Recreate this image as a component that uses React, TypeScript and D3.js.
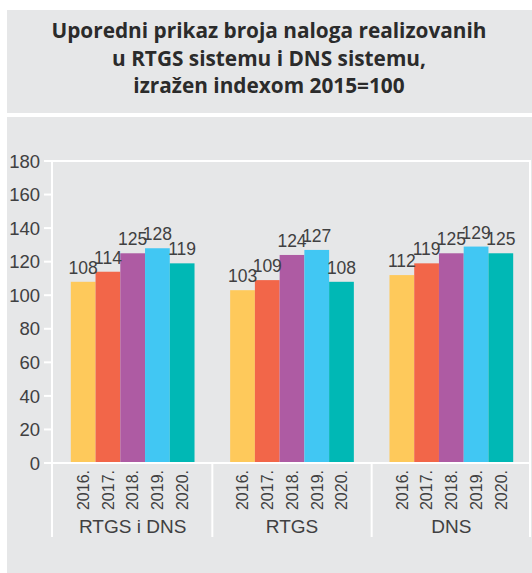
import React from "react";
import * as d3 from "d3";

// categories and values
const groups = ["RTGS i DNS", "RTGS", "DNS"];
const years = ["2016.", "2017.", "2018.", "2019.", "2020."];
const rtgsDns = [108, 114, 125, 128, 119];
const rtgs = [103, 109, 124, 127, 108];
const dns = [112, 119, 125, 129, 125];
const yTicks = [0, 20, 40, 60, 80, 100, 120, 140, 160, 180];
const titleLines = [
  "Uporedni prikaz broja naloga realizovanih",
  "u RTGS sistemu i DNS sistemu,",
  "izražen indexom 2015=100",
];

const colors = ["#fec95b", "#f26649", "#ae5ba3", "#41c7f3", "#00b8b5"];
const BG = "#e6e7e8";
const TXT = "#404041";
const FONT = "'Liberation Sans Narrow', 'Liberation Sans', sans-serif";

const App = () => {
  const W = 532,
    H = 573;
  const margin = { top: 161, left: 52, right: 530, bottom: 463 };
  const sepBottom = 537;

  const series = [rtgsDns, rtgs, dns];

  const x0 = d3.scaleBand().domain(groups).range([margin.left + 1, margin.right + 1]);
  const x1 = d3
    .scaleBand()
    .domain(years)
    .range([0, x0.bandwidth()])
    .paddingInner(0)
    .paddingOuter(0.72);
  const y = d3.scaleLinear().domain([0, 180]).range([margin.bottom, margin.top]);

  return (
    <svg
      width={W}
      height={H}
      style={{ position: "absolute", left: 0, top: 0, background: "#fff" }}
    >
      {/* title box */}
      <rect x={7} y={10} width={W - 7} height={103} fill={BG} />
      {titleLines.map((t, i) => (
        <text
          key={i}
          x={269}
          y={38 + i * 27.5}
          textAnchor="middle"
          fontFamily="'Open Sans', sans-serif"
          fontWeight={700}
          fontSize={20.8}
          fill="#2b2b2b"
        >
          {t}
        </text>
      ))}

      {/* chart panel */}
      <rect x={7} y={117} width={W - 7} height={H - 117} fill={BG} />

      {/* bars */}
      {groups.map((g, gi) => (
        <g key={g} transform={`translate(${x0(g)},0)`}>
          {years.map((yr, i) => (
            <rect
              key={yr}
              x={x1(yr)}
              y={y(series[gi][i])}
              width={x1.bandwidth()}
              height={margin.bottom - y(series[gi][i])}
              fill={colors[i]}
            />
          ))}
          {years.map((yr, i) => (
            <text
              key={yr}
              x={x1(yr)! + x1.bandwidth() / 2}
              y={y(series[gi][i]) - 8}
              textAnchor="middle"
              fontFamily={FONT}
              fontSize={17.5}
              fill={TXT}
            >
              {series[gi][i]}
            </text>
          ))}
          {years.map((yr) => (
            <text
              key={yr}
              transform={`translate(${x1(yr)! + x1.bandwidth() / 2},${margin.bottom + 7}) rotate(-90)`}
              dy="0.36em"
              textAnchor="end"
              fontFamily={FONT}
              fontSize={16}
              fill={TXT}
            >
              {yr}
            </text>
          ))}
          <text
            x={x0.bandwidth() / 2}
            y={533}
            textAnchor="middle"
            fontFamily={FONT}
            fontSize={19}
            fill={TXT}
          >
            {g}
          </text>
        </g>
      ))}

      {/* frame and axes */}
      <g stroke="#fff" strokeWidth={2} fill="none">
        <line x1={margin.left} x2={margin.right + 1} y1={margin.top} y2={margin.top} />
        <line x1={margin.left} x2={margin.right + 1} y1={margin.bottom} y2={margin.bottom} />
        <line x1={margin.left} x2={margin.left} y1={margin.top} y2={sepBottom} />
        <line x1={margin.right} x2={margin.right} y1={margin.top} y2={sepBottom} />
        {groups.slice(1).map((g) => (
          <line key={g} x1={x0(g)} x2={x0(g)} y1={margin.bottom} y2={sepBottom} />
        ))}
        {yTicks.map((t) => (
          <line key={t} x1={margin.left - 8} x2={margin.left} y1={y(t)} y2={y(t)} />
        ))}
      </g>

      {/* y tick labels */}
      {yTicks.map((t) => (
        <text
          key={t}
          x={40}
          y={y(t)}
          dy="0.36em"
          textAnchor="end"
          fontFamily={FONT}
          fontSize={18.5}
          fill={TXT}
        >
          {t}
        </text>
      ))}
    </svg>
  );
};

export default App;
